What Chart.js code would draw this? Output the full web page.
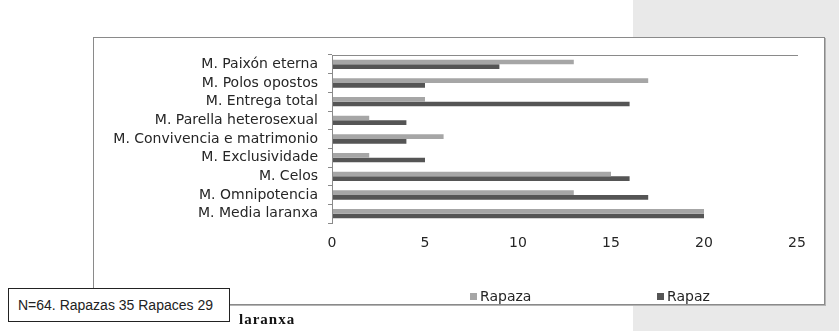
<!DOCTYPE html>
<html>
<head>
<meta charset="utf-8">
<script src="https://cdn.jsdelivr.net/npm/chart.js@4.4.1/dist/chart.umd.min.js"></script>
<style>
  html, body { margin: 0; padding: 0; background: #fff; }
  body { width: 839px; height: 331px; position: relative; overflow: hidden; font-family: "DejaVu Sans", sans-serif; }
  .side-panel { position: absolute; left: 633px; top: 0; width: 206px; height: 331px; background: #e9e9e9; }
  .frame { position: absolute; left: 93px; top: 37px; width: 730px; height: 266px; background: #fff;
           border: 1px solid #8a8a8a; box-shadow: 1px 1px 0 #b4b4b4; }
  #chart { position: absolute; left: 0; top: 0; }
  .legend { position: absolute; left: 470px; top: 287px; display: flex; }
  .legend-item { width: 187px; display: flex; align-items: center; font-size: 14px; color: #262626; height: 18px; }
  .legend-item .swatch { width: 7px; height: 7px; margin-right: 3px; }
  .note { position: absolute; left: 8px; top: 288px; width: 211px; height: 32px; padding-left: 9px;
          border: 1px solid #222; background: #fff; font: 14px "Liberation Sans", sans-serif;
          line-height: 32px; color: #222; }
  .caption { position: absolute; left: 239px; top: 312px; font: bold 15px "Liberation Serif", serif;
             line-height: 15px; letter-spacing: 1px; color: #111; }
</style>
</head>
<body>
<div class="side-panel"></div>
<div class="frame"></div>
<canvas id="chart" width="839" height="331"></canvas>
<div class="legend" id="legend"></div>
<div class="note">N=64. Rapazas 35 Rapaces 29</div>
<div class="caption">laranxa</div>
<script>
  // mitos do amor romántico, respostas por sexo
  var categories = ['M. Paixón eterna', 'M. Polos opostos', 'M. Entrega total', 'M. Parella heterosexual',
    'M. Convivencia e matrimonio', 'M. Exclusividade', 'M. Celos', 'M. Omnipotencia', 'M. Media laranxa'];
  var rapaza = [13, 17, 5, 2, 6, 2, 15, 13, 20];
  var rapaz = [9, 5, 16, 4, 4, 5, 16, 17, 20];
  var xTicks = [0, 5, 10, 15, 20, 25];

  var axisGray = '#8a8a8a';
  var textColor = '#262626';
  var font = { family: 'DejaVu Sans', size: 14 };

  // legend as html so the two entries sit apart like in the source layout
  var htmlLegend = {
    id: 'htmlLegend',
    afterUpdate: function (chart) {
      var box = document.getElementById('legend');
      box.innerHTML = '';
      chart.data.datasets.forEach(function (ds) {
        var item = document.createElement('div');
        item.className = 'legend-item';
        var sw = document.createElement('span');
        sw.className = 'swatch';
        sw.style.background = ds.backgroundColor;
        item.appendChild(sw);
        item.appendChild(document.createTextNode(ds.label));
        box.appendChild(item);
      });
    }
  };

  new Chart(document.getElementById('chart'), {
    type: 'bar',
    data: {
      labels: categories,
      datasets: [
        { label: 'Rapaza', data: rapaza, backgroundColor: '#a6a6a6' },
        { label: 'Rapaz', data: rapaz, backgroundColor: '#555555' }
      ]
    },
    options: {
      indexAxis: 'y',
      responsive: false,
      animation: false,
      devicePixelRatio: 1,
      layout: { padding: { left: 90, top: 55, right: 42, bottom: 78 } },
      datasets: { bar: { categoryPercentage: 0.5, barPercentage: 1, borderWidth: 0 } },
      plugins: { legend: { display: false }, tooltip: { enabled: false } },
      scales: {
        x: {
          min: 0, max: 25,
          afterBuildTicks: function (axis) { axis.ticks = xTicks.map(function (v) { return { value: v }; }); },
          afterFit: function (scale) { scale.height = 30; },
          grid: { display: false, drawTicks: false },
          border: { display: false },
          ticks: { padding: 12, color: textColor, font: font }
        },
        x2: {
          type: 'linear', position: 'top', min: 0, max: 25,
          grid: { display: false, drawTicks: false },
          ticks: { display: false },
          border: { display: true, color: axisGray }
        },
        y: {
          afterFit: function (scale) { scale.width = 332 - 90; },
          grid: { drawOnChartArea: false, drawTicks: true, tickLength: 4, color: axisGray, offset: true },
          border: { display: true, color: axisGray, width: 1, z: 1 },
          ticks: { autoSkip: false, padding: 10, color: textColor, font: font }
        }
      }
    },
    plugins: [htmlLegend]
  });
</script>
</body>
</html>
